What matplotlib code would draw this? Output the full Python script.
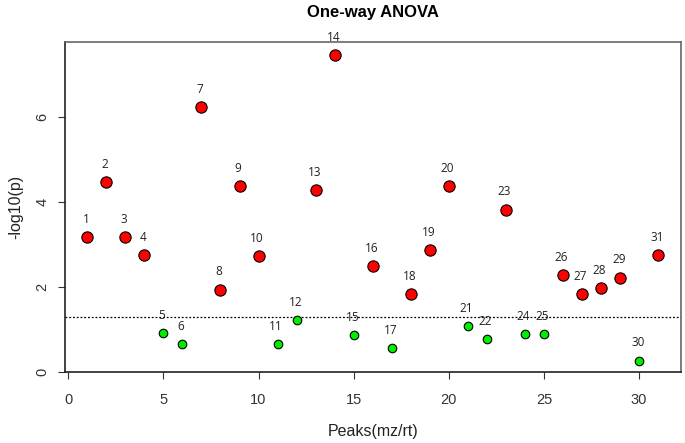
import matplotlib
matplotlib.use("Agg")
import matplotlib.pyplot as plt
import numpy as np

matplotlib.rcParams.update({
    "font.family": "sans-serif",
    "font.sans-serif": ["Liberation Sans", "DejaVu Sans"],
})

# ── Data ──────────────────────────────────────────────────────────────────────
peaks = list(range(1, 32))
neg_log_p = [3.18, 4.47, 3.18, 2.75, 0.92, 0.66, 6.24, 1.94, 4.38, 2.73,
             0.66, 1.23, 4.28, 7.45, 0.86, 2.49, 0.56, 1.84, 2.86, 4.38,
             1.07, 0.78, 3.82, 0.89, 0.89, 2.27, 1.84, 1.97, 2.22, 0.27,
             2.75]
threshold = -np.log10(0.05)

x = np.array(peaks)
y = np.array(neg_log_p)
sig = y > threshold

fig = plt.figure(figsize=(6.85, 4.43), dpi=100)
ax = fig.add_axes([65 / 685, 1 - 372 / 443, 616 / 685, 330 / 443])

ax.scatter(x[sig], y[sig], s=66, color="#FF0000", edgecolors="black",
           linewidths=0.8, zorder=3)
ax.scatter(x[~sig], y[~sig], s=38, color="#00EE00", edgecolors="black",
           linewidths=0.8, zorder=3)

# peak labels above each point
for xi, yi in zip(x, y):
    ax.annotate(str(xi), (xi, yi), xytext=(-1, 8), textcoords="offset points",
                ha="center", va="bottom", fontsize=8.5, color="#222222",
                family=["Open Sans", "DejaVu Sans"])

ax.axhline(threshold, color="black", lw=0.9, ls=(0, (1.5, 1.5)), zorder=1)

ax.set_xlim(-0.17, 32.2)
ax.set_ylim(0, 7.76)
ax.set_xticks([0, 5, 10, 15, 20, 25, 30])
ax.set_yticks([0, 2, 4, 6])
ax.tick_params(axis="x", labelsize=10.5, length=5, pad=10, colors="#333333")
ax.tick_params(axis="y", labelsize=10.5, length=5, pad=6, colors="#333333")
for lab in ax.get_yticklabels():
    lab.set_rotation(90)
    lab.set_va("center")

for side in ["top", "right"]:
    ax.spines[side].set_color("#666666")
    ax.spines[side].set_linewidth(1.2)
for side in ["left", "bottom"]:
    ax.spines[side].set_color("#222222")
    ax.spines[side].set_linewidth(1.2)

ax.set_xlabel("Peaks(mz/rt)", fontsize=11.5, labelpad=12, color="#222222")
ax.set_ylabel("-log10(p)", fontsize=11.5, labelpad=9, color="#222222")
ax.set_title("One-way ANOVA", fontsize=12, fontweight="bold", pad=18)

fig.savefig("out.png", dpi=100)
